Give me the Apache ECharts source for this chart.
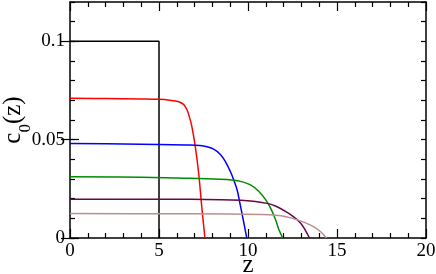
<!DOCTYPE html>
<html>
<head>
<meta charset="utf-8">
<script src="https://cdn.jsdelivr.net/npm/echarts@6/dist/echarts.min.js"></script>
<style>html,body{margin:0;padding:0;background:#fff}#c{width:436px;height:274px}</style>
</head>
<body>
<div id="c"></div>
<script>
// Tick labels
const xTickLabels = [0, 5, 10, 15, 20];
const yTickLabels = [0, 0.05, 0.1];

// Series data (z, c0)
const blackZ = [0, 5, 5];
const blackC = [0.1, 0.1, 0];

const redZ = [0, 2, 4, 5, 5.6, 6.0, 6.2, 6.4, 6.57, 6.72, 6.85, 7.04, 7.23, 7.4, 7.5, 7.58];
const redC = [0.0711, 0.0709, 0.0707, 0.0705, 0.0701, 0.0695, 0.0689, 0.0677, 0.0652, 0.0612, 0.0565, 0.0463, 0.0328, 0.016, 0.007, 0];

const blueZ = [0, 3, 5, 6.5, 7.3, 7.7, 8.07, 8.45, 8.75, 9.01, 9.2, 9.39, 9.55, 9.77, 9.93];
const blueC = [0.0480, 0.0478, 0.0476, 0.0473, 0.0470, 0.0464, 0.0452, 0.0425, 0.0385, 0.0338, 0.0295, 0.0244, 0.0175, 0.0075, 0];

const greenZ = [0, 4, 6, 8.45, 9.2, 9.58, 10.14, 10.6, 10.99, 11.27, 11.55, 11.74, 11.95];
const greenC = [0.0311, 0.0309, 0.0305, 0.0299, 0.0294, 0.0288, 0.0270, 0.0238, 0.0195, 0.0152, 0.0093, 0.0042, 0];

const purpleZ = [0, 5, 8.5, 9.6, 10.3, 11.08, 11.6, 12.2, 12.6, 12.96, 13.2, 13.45];
const purpleC = [0.0197, 0.0197, 0.0195, 0.0192, 0.0187, 0.0176, 0.0160, 0.0130, 0.0105, 0.0075, 0.0042, 0];

const pinkZ = [0, 5, 9, 10.7, 11.45, 12.2, 12.77, 13.2, 13.7, 14.08, 14.4];
const pinkC = [0.0124, 0.0123, 0.0122, 0.0120, 0.0117, 0.0107, 0.0092, 0.0078, 0.0057, 0.0032, 0];

function pairs(z, c) { return z.map((v, i) => [v, c[i]]); }

const FONT = '"Liberation Serif", "Times New Roman", serif';
const lineStyleAxis = { color: '#000', width: 1.5 };

function xAx(pos, withLabels) {
  return {
    type: 'value', position: pos, min: 0, max: 20, interval: 5,
    axisLine: { show: true, onZero: false, lineStyle: lineStyleAxis },
    axisTick: { show: true, inside: true, length: 9, lineStyle: { color: '#000', width: 1.2 } },
    minorTick: { show: true, splitNumber: 5, length: 5, lineStyle: { color: '#000', width: 1.2 } },
    splitLine: { show: false },
    axisLabel: withLabels ? { show: true, color: '#000', fontFamily: FONT, fontSize: 19, margin: 4,
      customValues: xTickLabels } : { show: false },
    name: withLabels ? 'z' : '',
    nameLocation: 'middle', nameGap: 15, nameMoveOverlap: false,
    nameTextStyle: { color: '#000', fontFamily: FONT, fontSize: 25 }
  };
}
function yMinor(pos, withLabels) {
  return {
    type: 'value', position: pos, min: 0, max: 0.12, interval: 0.01,
    axisLine: { show: true, onZero: false, lineStyle: lineStyleAxis },
    axisTick: { show: true, inside: true, length: 5, lineStyle: { color: '#000', width: 1.2 } },
    splitLine: { show: false },
    axisLabel: withLabels ? { show: true, color: '#000', fontFamily: FONT, fontSize: 19, margin: 5,
      customValues: yTickLabels, formatter: v => String(+v.toFixed(4)) } : { show: false },
    name: withLabels ? '{c|c}{s|0}{c|(z)}' : '',
    nameLocation: 'middle', nameGap: 44, nameRotate: 90, nameMoveOverlap: false,
    nameTextStyle: { color: '#000', fontFamily: FONT, fontSize: 25,
      rich: {
        c: { fontFamily: FONT, fontSize: 25, color: '#000', lineHeight: 30, verticalAlign: 'bottom' },
        s: { fontFamily: FONT, fontSize: 17, color: '#000', lineHeight: 30, verticalAlign: 'bottom', padding: [0,0,-8,0] }
      } }
  };
}
function yMajor(pos) {
  return {
    type: 'value', position: pos, min: 0, max: 0.12, interval: 0.01,
    axisLine: { show: false },
    axisTick: { show: true, inside: true, length: 9, customValues: yTickLabels, lineStyle: { color: '#000', width: 1.2 } },
    splitLine: { show: false },
    axisLabel: { show: false }
  };
}

function ser(name, z, c, color, smooth) {
  return {
    name: name, type: 'line', data: pairs(z, c), xAxisIndex: 0, yAxisIndex: 0,
    showSymbol: false, symbol: 'none', smooth: smooth ? 0.4 : false,
    lineStyle: { color: color, width: 1.5 }, itemStyle: { color: color }, animation: false, z: 1
  };
}

const chart = echarts.init(document.getElementById('c'), null, { renderer: 'canvas' });
chart.setOption({
  animation: false,
  backgroundColor: '#fff',
  grid: { left: 70, right: 10, top: 2, bottom: 36, containLabel: false, outerBoundsMode: 'none' },
  xAxis: [xAx('bottom', true), xAx('top', false)],
  yAxis: [yMinor('left', true), yMinor('right', false), yMajor('left'), yMajor('right')],
  series: [
    ser('black', blackZ, blackC, '#000000', false),
    ser('red', redZ, redC, '#ff0000', true),
    ser('blue', blueZ, blueC, '#0000ff', true),
    ser('green', greenZ, greenC, '#008b00', true),
    ser('maroon', purpleZ, purpleC, '#670748', true),
    ser('brown', pinkZ, pinkC, '#bc8f8f', true)
  ]
});
</script>
</body>
</html>
